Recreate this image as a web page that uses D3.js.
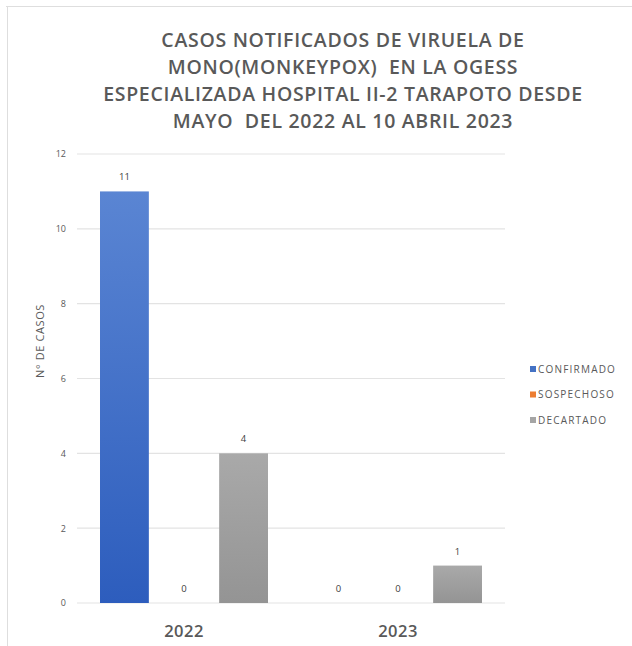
<!DOCTYPE html>
<html>
<head>
<meta charset="utf-8">
<script src="https://cdn.jsdelivr.net/npm/d3@7"></script>
<style>
    body { margin: 0; background: #fff; }
    svg { display: block; }
</style>
</head>
<body>
<div id="chart"></div>
<script>
const titleLines = [
    'CASOS NOTIFICADOS DE VIRUELA DE',
    'MONO(MONKEYPOX)  EN LA OGESS',
    'ESPECIALIZADA HOSPITAL II-2 TARAPOTO DESDE',
    'MAYO  DEL 2022 AL 10 ABRIL 2023'
];
const years = ['2022', '2023'];
const seriesNames = ['CONFIRMADO', 'SOSPECHOSO', 'DECARTADO'];
const confirmado = [11, 0];
const sospechoso = [0, 0];
const decartado = [4, 1];
const yTicks = [0, 2, 4, 6, 8, 10, 12];

const seriesValues = [confirmado, sospechoso, decartado];
const colors = ['#4472c4', '#ed7d31', '#a5a5a5'];
const gradTop = ['#5a85d3', '#f08a45', '#a9a9a9'];
const gradBottom = ['#2d5dbd', '#e0702a', '#949494'];

const width = 632, height = 646;

const svg = d3.select('#chart')
    .append('svg')
    .attr('width', width)
    .attr('height', height);

const defs = svg.append('defs');
seriesNames.forEach((s, i) => {
    const g = defs.append('linearGradient')
        .attr('id', 'grad' + i)
        .attr('x1', 0).attr('y1', 0).attr('x2', 0).attr('y2', 1);
    g.append('stop').attr('offset', '0%').attr('stop-color', gradTop[i]);
    g.append('stop').attr('offset', '100%').attr('stop-color', gradBottom[i]);
});

// frame
svg.append('line')
    .attr('x1', 6).attr('x2', width).attr('y1', 6.5).attr('y2', 6.5)
    .attr('stroke', '#dedede');
svg.append('line')
    .attr('x1', 7.5).attr('x2', 7.5).attr('y1', 6).attr('y2', height)
    .attr('stroke', '#dedede');

// title
svg.append('g')
    .selectAll('text')
    .data(titleLines)
    .enter()
    .append('text')
    .attr('x', 343)
    .attr('y', (d, i) => 47 + i * 27)
    .attr('text-anchor', 'middle')
    .attr('font-family', 'Open Sans, sans-serif')
    .attr('font-weight', 600)
    .attr('font-size', '19.5px')
    .attr('letter-spacing', '0.7px')
    .attr('fill', '#595959')
    .style('white-space', 'pre')
    .text(d => d);

const y = d3.scaleLinear().domain([0, 12]).range([603, 154]);
const x0 = d3.scaleBand().domain(years).range([77, 505]);
const x1 = d3.scaleBand().domain(seriesNames)
    .range([23, x0.bandwidth() - 23])
    .paddingInner(0.18);

// grid
svg.append('g')
    .selectAll('line')
    .data(yTicks)
    .enter()
    .append('line')
    .attr('x1', 77).attr('x2', 505)
    .attr('y1', d => y(d)).attr('y2', d => y(d))
    .attr('stroke', '#e3e3e3')
    .attr('stroke-width', 1.2);

// y axis labels
const yAxis = svg.append('g')
    .attr('transform', 'translate(66,0)')
    .call(d3.axisLeft(y).tickValues(yTicks).tickSize(0).tickPadding(0));
yAxis.select('.domain').remove();
yAxis.selectAll('text')
    .attr('font-family', 'Open Sans, sans-serif')
    .attr('font-size', '9px')
    .attr('fill', '#595959');

svg.append('text')
    .attr('transform', 'translate(44,341) rotate(-90)')
    .attr('text-anchor', 'middle')
    .attr('font-family', 'Open Sans, sans-serif')
    .attr('font-size', '11px')
    .attr('letter-spacing', '0.6px')
    .attr('fill', '#595959')
    .text('N° DE CASOS');

// bars
const groups = svg.append('g')
    .selectAll('g')
    .data(years)
    .enter()
    .append('g')
    .attr('transform', d => `translate(${x0(d)},0)`);

groups.selectAll('rect')
    .data((d, yi) => seriesNames.map((s, si) => ({ s, si, v: seriesValues[si][yi] })))
    .enter()
    .append('rect')
    .attr('x', d => x1(d.s))
    .attr('width', x1.bandwidth())
    .attr('y', d => y(d.v))
    .attr('height', d => y(0) - y(d.v))
    .attr('fill', d => `url(#grad${d.si})`);

groups.selectAll('text')
    .data((d, yi) => seriesNames.map((s, si) => ({ s, si, v: seriesValues[si][yi] })))
    .enter()
    .append('text')
    .attr('x', d => x1(d.s) + x1.bandwidth() / 2)
    .attr('y', d => y(d.v) - 11)
    .attr('text-anchor', 'middle')
    .attr('font-family', 'Open Sans, sans-serif')
    .attr('font-size', '9.5px')
    .attr('fill', '#404040')
    .text(d => d.v);

// x labels
svg.append('g')
    .selectAll('text')
    .data(years)
    .enter()
    .append('text')
    .attr('x', d => x0(d) + x0.bandwidth() / 2)
    .attr('y', 637)
    .attr('text-anchor', 'middle')
    .attr('font-family', 'Open Sans, sans-serif')
    .attr('font-weight', 600)
    .attr('font-size', '16.5px')
    .attr('letter-spacing', '0.5px')
    .attr('fill', '#595959')
    .text(d => d);

// legend
const legend = svg.append('g')
    .selectAll('g')
    .data(seriesNames)
    .enter()
    .append('g')
    .attr('transform', (d, i) => `translate(530,${369 + i * 25.5})`);
legend.append('rect')
    .attr('x', 0).attr('y', -3)
    .attr('width', 6).attr('height', 6)
    .attr('fill', (d, i) => colors[i]);
legend.append('text')
    .attr('x', 8)
    .attr('y', 3.5)
    .attr('font-family', 'Open Sans, sans-serif')
    .attr('font-size', '10px')
    .attr('letter-spacing', '1.2px')
    .attr('fill', '#595959')
    .text(d => d);
</script>
</body>
</html>
